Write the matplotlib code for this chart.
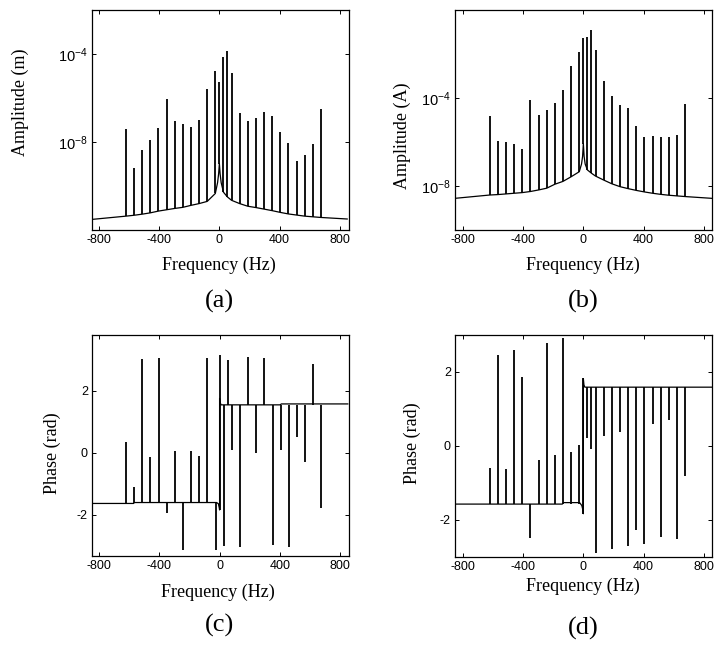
import numpy as np
import matplotlib
matplotlib.use("Agg")
import matplotlib.pyplot as plt

plt.rcParams['font.family'] = ['Liberation Sans', 'DejaVu Sans']
plt.rcParams['axes.unicode_minus'] = False

# ---------------- data ----------------
spike_f = [-621, -567, -513, -459, -405, -351, -297, -243, -189, -135, -81, -27, 0,
           27, 54, 81, 135, 189, 243, 297, 351, 405, 459, 513, 567, 621, 675]

# (a) displacement amplitude, log10(m)
a_peak_log = [-7.41, -9.18, -8.38, -7.92, -7.37, -6.04, -7.03, -7.17, -7.32, -7.02, -5.59, -4.79, -5.29,
              -4.12, -3.85, -4.86, -6.70, -7.03, -6.91, -6.63, -6.84, -7.55, -8.06, -8.85, -8.60, -8.11, -6.51]
a_floor_f = [-850, -621, -567, -513, -459, -405, -351, -297, -243, -189, -135, -81, -27, -12, -5, 0,
             5, 12, 27, 54, 81, 135, 189, 243, 297, 351, 405, 459, 513, 567, 621, 675, 850]
a_floor_log = [-11.52, -11.37, -11.33, -11.28, -11.22, -11.14, -11.08, -11.02, -10.97, -10.88, -10.80, -10.70,
               -10.34, -9.85, -9.45, -8.98, -9.45, -9.85, -10.28, -10.50, -10.65, -10.80, -10.92, -10.98,
               -11.05, -11.12, -11.20, -11.27, -11.32, -11.37, -11.40, -11.43, -11.50]

# (b) current amplitude, log10(A)
b_peak_log = [-4.83, -5.96, -6.02, -6.07, -6.32, -4.10, -4.75, -4.53, -4.21, -3.62, -2.56, -1.89, -1.26,
              -1.21, -0.93, -1.84, -3.24, -3.91, -4.33, -4.45, -5.25, -5.78, -5.73, -5.78, -5.78, -5.70, -4.27]
b_floor_f = a_floor_f
b_floor_log = [-8.56, -8.41, -8.39, -8.36, -8.33, -8.30, -8.25, -8.18, -8.10, -7.92, -7.79, -7.58,
               -7.35, -7.00, -6.65, -6.07, -6.65, -7.00, -7.27, -7.42, -7.55, -7.73, -7.90, -8.03,
               -8.12, -8.20, -8.27, -8.33, -8.38, -8.42, -8.45, -8.48, -8.56]

# (c) displacement phase (rad)
c_tip = [0.34, -1.10, 3.03, -0.13, 3.05, -1.96, 0.05, -3.13, 0.05, -0.11, 3.05, -3.15, 3.16,
         -3.02, 3.00, 0.09, -3.04, 3.11, -0.02, 3.05, -2.99, 0.09, -3.04, 0.52, -0.29, 2.87, -1.80]
c_base_f = [-850, -570, -565, -20, -8, -2, 0, 0, 4, 10, 400, 410, 850]
c_base_v = [-1.64, -1.64, -1.61, -1.61, -1.65, -1.78, -1.85, 1.76, 1.62, 1.55, 1.55, 1.58, 1.58]

# (d) current phase (rad)
d_tip = [-0.60, 2.47, -0.61, 2.60, 1.86, -2.48, -0.38, 2.78, -0.25, 2.91, -0.16, 0.02, 1.85,
         0.21, -0.09, -2.89, 0.27, -2.78, 0.39, -2.71, -2.27, -2.64, 0.60, -2.46, 0.69, -2.51, -0.82]
d_base_f = [-850, -140, -130, -25, -10, -2, 0, 0, 4, 10, 850]
d_base_v = [-1.57, -1.57, -1.53, -1.53, -1.61, -1.75, -1.83, 1.82, 1.65, 1.59, 1.59]

xticks = [-800, -400, 0, 400, 800]
panel_labels = ['(a)', '(b)', '(c)', '(d)']
ylabels = ['Amplitude (m)', 'Amplitude (A)', 'Phase (rad)', 'Phase (rad)']

# ---------------- figure ----------------
W, H = 715, 647
fig = plt.figure(figsize=(W / 100, H / 100), dpi=100)

def ax_at(l, t, r, b):
    return fig.add_axes([l / W, 1 - b / H, (r - l) / W, (b - t) / H])

axA = ax_at(92, 10, 349, 230)
axB = ax_at(455, 10, 712, 230)
axC = ax_at(92, 335, 349, 556)
axD = ax_at(455, 335, 712, 557)

serif = ['Liberation Serif', 'DejaVu Serif']

def style(ax):
    ax.tick_params(direction='in', length=3, width=0.7, top=True, right=True,
                   labelsize=9, pad=3, which='major')
    ax.tick_params(which='minor', length=0)
    for s in ax.spines.values():
        s.set_linewidth(0.9)
    ax.set_xticks(xticks)
    ax.set_xticklabels([str(v) for v in xticks])

def amp_panel(ax, peak_log, floor_f, floor_log, ylim, yt):
    floor = dict(zip(floor_f, floor_log))
    base = [10.0 ** floor[f] for f in spike_f]
    peak = [10.0 ** p for p in peak_log]
    ax.set_yscale('log')
    ax.plot(floor_f, [10.0 ** v for v in floor_log], color='black', lw=0.9)
    ax.vlines(spike_f, base, peak, color='black', lw=1.3)
    ax.set_ylim(*ylim)
    ax.set_yticks(yt)
    ax.set_yticklabels([r'$\mathdefault{10^{%d}}$' % int(np.log10(v)) for v in yt],
                       fontsize=10.5)
    ax.yaxis.set_minor_locator(matplotlib.ticker.NullLocator())

def phase_panel(ax, tip, base_f, base_v, ylim, left_lvl, right_lvl, zero_base):
    ax.plot(base_f, base_v, color='black', lw=0.9)
    bases = [left_lvl if f < 0 else (right_lvl if f > 0 else zero_base) for f in spike_f]
    ax.vlines(spike_f, bases, tip, color='black', lw=1.3)
    ax.set_ylim(*ylim)
    ax.set_yticks([-2, 0, 2])
    ax.set_yticklabels(['-2', '0', '2'])

for ax in (axA, axB, axC, axD):
    style(ax)

amp_panel(axA, a_peak_log, a_floor_f, a_floor_log, (1e-12, 1e-2), [1e-8, 1e-4])
axA.set_xlim(-847, 862)
amp_panel(axB, b_peak_log, b_floor_f, b_floor_log, (1e-10, 1e0), [1e-8, 1e-4])
axB.set_xlim(-851, 853)
phase_panel(axC, c_tip, c_base_f, c_base_v, (-3.34, 3.81), -1.61, 1.55, -1.85)
axC.set_xlim(-846, 858)
phase_panel(axD, d_tip, d_base_f, d_base_v, (-3.0, 3.0), -1.57, 1.59, -1.83)
axD.set_xlim(-851, 853)

# labels (placed in pixels)
def ftext(x, y, s, size, rot=0):
    fig.text(x / W, 1 - y / H, s, ha='center', va='center', fontsize=size,
             rotation=rot, family=serif)

ftext(20, 102, ylabels[0], 13, 90)
ftext(402, 136, ylabels[1], 13, 90)
ftext(52, 453, ylabels[2], 13, 90)
ftext(412, 443, ylabels[3], 13, 90)

ftext(219, 265, 'Frequency (Hz)', 13)
ftext(583, 265, 'Frequency (Hz)', 13)
ftext(218, 592, 'Frequency (Hz)', 13)
ftext(583, 586, 'Frequency (Hz)', 13)

ftext(219, 301, panel_labels[0], 19)
ftext(583, 301, panel_labels[1], 19)
ftext(220, 625, panel_labels[2], 19)
ftext(583, 628, panel_labels[3], 19)

fig.savefig('out.png', dpi=100)
